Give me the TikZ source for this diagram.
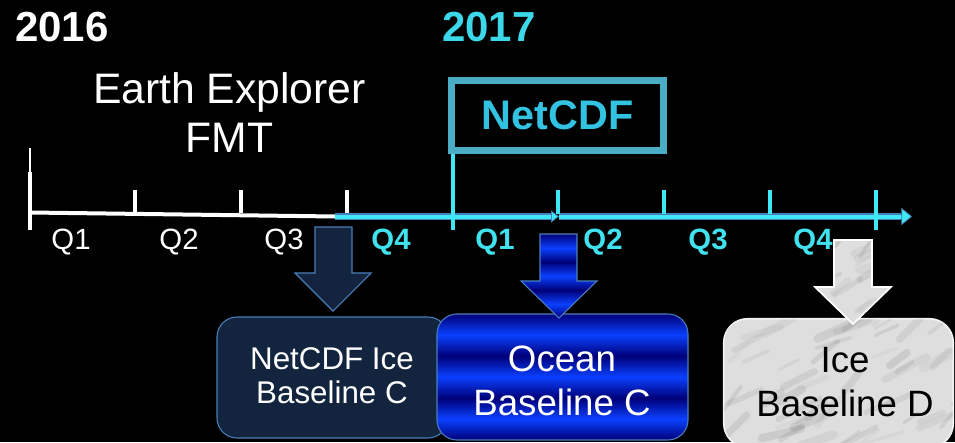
\documentclass[tikz,border=0pt]{standalone}
\usepackage{fontspec}
\setmainfont{Liberation Sans}
\usetikzlibrary{arrows.meta}
\definecolor{cyanline}{HTML}{3EE8F4}
\definecolor{yrcyan}{HTML}{3CD8EA}
\definecolor{qcyan}{HTML}{40E2F0}
\definecolor{boxstroke}{HTML}{4BACC6}
\definecolor{ncdftext}{HTML}{33C3E2}
\definecolor{navy}{HTML}{13243F}
\definecolor{outline}{HTML}{4A7EBB}
\definecolor{obright}{HTML}{0A40FF}
\definecolor{odark}{HTML}{000078}
\definecolor{marble}{HTML}{DEDEDE}
\pgfdeclareverticalshading{oceanstripes}{100bp}{%
color(0bp)=(obright); color(8.33bp)=(odark); color(16.67bp)=(obright);
color(25bp)=(odark); color(33.33bp)=(obright); color(41.67bp)=(odark);
color(50bp)=(obright); color(58.33bp)=(odark); color(66.67bp)=(obright);
color(75bp)=(odark); color(83.33bp)=(obright); color(91.67bp)=(odark);
color(100bp)=(obright)}
\begin{document}
\begin{tikzpicture}[x=0.75pt,y=-0.75pt,
  yr/.style={font=\fontsize{31.5}{36}\selectfont\bfseries, inner sep=0pt, anchor=base west},
  qlab/.style={font=\fontsize{22}{24}\selectfont, inner sep=0pt, anchor=base, text=white},
  qbold/.style={qlab, font=\fontsize{22}{24}\selectfont\bfseries, text=qcyan},
  wtick/.style={white, line width=3pt},
  ctick/.style={cyanline, line width=3pt},
  blockbox/.style={minimum width=#1, inner sep=0pt, rounded corners=15pt, line width=0.8pt},
  boxtext/.style={inner sep=0pt, anchor=base, align=center},
  streak/.style={opacity=0.13, line cap=round}]
\fill[black] (0,0) rectangle (955,442);
\useasboundingbox (0,0) rectangle (955,442);

% years
\node[yr, text=white] (y16) at (15,42) {2016};
\node[yr, text=yrcyan] (y17) at (442,42) {2017};

% Earth Explorer (anchor base = last line)
\node[font=\fontsize{32}{36}\selectfont, align=center, anchor=base, inner sep=0pt, text=white] (ee) at (229.5,152) {Earth Explorer\\FMT};

% NetCDF box
\node[draw=boxstroke, line width=5.25pt, minimum width=159pt, minimum height=52.5pt, inner sep=0pt,
      font=\fontsize{31}{36}\selectfont\bfseries, text=ncdftext] (ncdf) at (557.5,115.5) {NetCDF};

% timeline
\coordinate (t0) at (30,212.5);
\coordinate (tw) at (335,216.5);
\coordinate (tm) at (559,216.5);
\coordinate (tend) at (912,216.5);
\coordinate (vbot) at (453,230);
\draw[white, line width=2pt] (30,148) -- (30,175);
\draw[white, line width=3pt] (30,172) -- (30,230);
\draw[white, line width=3pt] (t0) -- (tw);
\draw[outline, line width=4.8pt] (tw) -- ([xshift=-4pt]tm);
\draw[outline, line width=4.8pt] (tm) -- ([xshift=-8pt]tend);
\draw[cyanline, line width=3pt, -{Triangle[length=6pt,width=9pt,line width=0.6pt,color=outline,fill=cyanline]}] (tw) -- (tm);
\draw[cyanline, line width=3pt, -{Triangle[length=8pt,width=13pt,line width=0.6pt,color=outline,fill=cyanline]}] (tm) -- (tend);
\foreach \x in {135,241,347} \draw[wtick] (\x,190) -- (\x,213);
\foreach \x in {558,664,770} \draw[ctick] (\x,190) -- (\x,214);
\draw[ctick] (876,190) -- (876,230);
\draw[ctick] (ncdf.south west -| vbot) -- (vbot);

% quarter labels
\node[qlab] (q1a) at (71,249) {Q1};
\node[qlab] (q2a) at (179,249) {Q2};
\node[qlab] (q3a) at (284,249) {Q3};
\node[qbold] (q4a) at (391,249) {Q4};
\node[qbold] (q1b) at (495,249) {Q1};
\node[qbold] (q2b) at (603,249) {Q2};
\node[qbold] (q3b) at (708,249) {Q3};
\node[qbold] (q4b) at (813,249) {Q4};

% boxes
\node[blockbox=173.25pt, minimum height=90.75pt, draw=outline, fill=navy] (bx1) at (332.5,377.5) {};
\node[blockbox=188.25pt, minimum height=94.5pt, draw=outline, shade, shading=oceanstripes] (bx2) at (562.5,377) {};
\node[blockbox=171.75pt, minimum height=96pt, rounded corners=18pt, draw=white!90!gray, fill=marble] (bx3) at (838.5,383) {};
\begin{scope}
  \clip[rounded corners=18pt] (bx3.south west) rectangle (bx3.north east);
  \pgfmathsetseed{7}
  \foreach \i in {1,...,55} {
    \pgfmathsetmacro\xa{715+rnd*245}
    \pgfmathsetmacro\ya{315+rnd*135}
    \pgfmathsetmacro\lw{2+rnd*5}
    \pgfmathsetmacro\gg{30+rnd*40}
    \draw[streak, black!\gg!white, line width=\lw pt] (\xa,\ya) -- ++(14+rnd*28, -8-rnd*16);
  }
\end{scope}
\draw[white!90!gray, line width=0.8pt, rounded corners=18pt] (bx3.south west) rectangle (bx3.north east);

% block arrows
\filldraw[fill=navy, draw=outline, line width=0.8pt]
  (315,227) -- (352,227) -- (352,273) -- (371,273) -- (333,311) -- (295,273) -- (315,273) -- cycle;
\shadedraw[shading=oceanstripes, draw=outline, line width=0.8pt]
  (540,234) -- (577,234) -- (577,281) -- (597,281) -- (559,318) -- (521,281) -- (540,281) -- cycle;
\begin{scope}
  \path[clip] (834,240) -- (872,240) -- (872,287) -- (891,287) -- (853,324) -- (815,287) -- (834,287) -- cycle;
  \fill[marble] (810,235) rectangle (895,330);
  \pgfmathsetseed{11}
  \foreach \i in {1,...,20} {
    \pgfmathsetmacro\xa{805+rnd*90}
    \pgfmathsetmacro\ya{235+rnd*95}
    \pgfmathsetmacro\lw{2+rnd*4}
    \pgfmathsetmacro\gg{30+rnd*40}
    \draw[streak, black!\gg!white, line width=\lw pt] (\xa,\ya) -- ++(10+rnd*20, -6-rnd*12);
  }
\end{scope}
\draw[white, line width=1.2pt] (834,240) -- (872,240) -- (872,287) -- (891,287) -- (853,324) -- (815,287) -- (834,287) -- cycle;

% box texts (anchor base = last line)
\node[boxtext, font=\fontsize{23.5}{25.5}\selectfont, text=white] (bt1) at (332,403) {NetCDF Ice\\Baseline C};
\node[boxtext, font=\fontsize{27.5}{32.5}\selectfont, text=white] (bt2) at (562,415) {Ocean\\Baseline C};
\node[boxtext, font=\fontsize{27.5}{32.8}\selectfont, text=black] (bt3) at (845,416.5) {Ice\\Baseline D};
\end{tikzpicture}
\end{document}
